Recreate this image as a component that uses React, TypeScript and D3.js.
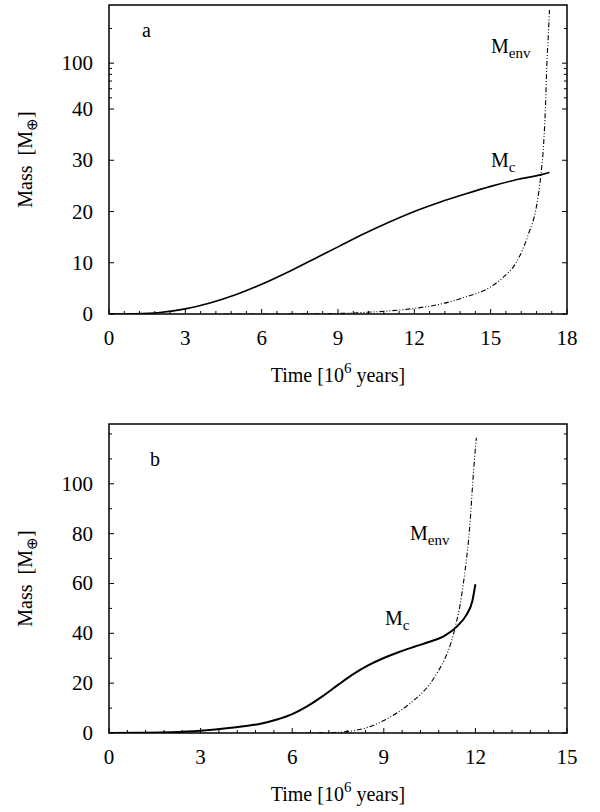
import React from "react";
import * as d3 from "d3";

// ---------- Data ----------
// Panel a
const timeA_core = [0, 1, 2, 3, 4, 5, 6, 7, 8, 9, 10, 11, 12, 13, 14, 15, 16, 17, 17.31];
const massA_core = [0, 0.05, 0.3, 1.0, 2.2, 3.8, 5.8, 8.1, 10.6, 13.1, 15.6, 17.9, 20.0, 21.8, 23.4, 24.9, 26.2, 27.2, 27.6];
const timeA_env = [4.5, 8, 9, 10, 11, 12, 13, 14, 15, 15.5, 16, 16.5, 16.8, 16.97, 17.08, 17.15, 17.21, 17.27, 17.31];
const massA_env = [0, 0.03, 0.1, 0.3, 0.6, 1.1, 1.9, 3.3, 5.3, 7.2, 10, 15.8, 21, 27, 33, 40, 100, 183, 290];
// Panel b
const timeB_core = [0, 1, 2, 3, 4, 5, 5.5, 6, 6.5, 7, 7.5, 8, 8.5, 9, 9.5, 10, 10.5, 11, 11.4, 11.7, 11.9, 12];
const massB_core = [0, 0.1, 0.3, 0.9, 2.1, 3.8, 5.4, 7.6, 10.8, 14.8, 19.3, 23.6, 27.2, 30.1, 32.5, 34.6, 36.6, 39.1, 42.8, 47.3, 53, 59.7];
const timeB_env = [6, 7, 7.5, 8, 8.5, 9, 9.5, 10, 10.5, 10.75, 11, 11.2, 11.36, 11.5, 11.6, 11.7, 11.78, 11.84, 11.91, 12.03];
const massB_env = [0, 0.05, 0.25, 0.9, 2.4, 5.0, 8.6, 13.3, 19.5, 24.2, 29.8, 36.2, 43.5, 51.5, 59.5, 69, 78, 87, 100, 118.5];

// Ticks
const xMajorA = [0, 3, 6, 9, 12, 15, 18];
const xMajorB = [0, 3, 6, 9, 12, 15];
const yMajorA = [0, 10, 20, 30, 40, 100];
const yMinorA = [50, 60, 70, 80, 90, 200];
const yMajorB = [0, 20, 40, 60, 80, 100];
const yMinorB = [10, 30, 50, 70, 90, 110, 120];

const FONT = "'Liberation Serif', 'Times New Roman', Times, serif";
const LEFT = 109;
const RIGHT = 567;

type PanelProps = {
  top: number;
  bottom: number;
  xMax: number;
  xMajor: number[];
  yScale: (v: number) => number;
  yMajor: number[];
  yMinor: number[];
  core: [number[], number[]];
  env: [number[], number[]];
  letter: string;
  letterPos: [number, number];
  mcPos: [number, number];
  menvPos: [number, number];
  coreWidth: number;
};

function Panel(p: PanelProps) {
  const x = d3.scaleLinear().domain([0, p.xMax]).range([LEFT, RIGHT]);
  const xMinor = d3.range(0, p.xMax + 1e-6, 0.6).filter(
    (v) => Math.abs(v / 3 - Math.round(v / 3)) > 1e-6
  );
  const line = d3
    .line<[number, number]>()
    .x((d) => x(d[0]))
    .y((d) => p.yScale(d[1]))
    .curve(d3.curveMonotoneX);
  const coreData = p.core[0].map((t, i) => [t, p.core[1][i]] as [number, number]);
  const envData = p.env[0].map((t, i) => [t, p.env[1][i]] as [number, number]);
  const { top, bottom } = p;
  const cx = (LEFT + RIGHT) / 2;
  const cy = (top + bottom) / 2;
  return (
    <g>
      <defs>
        <clipPath id={"clip" + p.letter}>
          <rect x={LEFT} y={top} width={RIGHT - LEFT} height={bottom - top} />
        </clipPath>
      </defs>
      {p.xMajor.map((v) => (
        <g key={"xM" + v}>
          <line x1={x(v)} x2={x(v)} y1={bottom} y2={bottom - 5} stroke="#000" strokeWidth={1} />
          <text x={x(v)} y={bottom + 31} textAnchor="middle" fontSize={21} fontFamily={FONT}>
            {v}
          </text>
        </g>
      ))}
      {xMinor.map((v) => (
        <line key={"xm" + v} x1={x(v)} x2={x(v)} y1={bottom} y2={bottom - 3} stroke="#000" strokeWidth={1} />
      ))}
      {p.yMajor.map((v) => (
        <g key={"yM" + v}>
          <line x1={LEFT} x2={LEFT + 5} y1={p.yScale(v)} y2={p.yScale(v)} stroke="#000" strokeWidth={1} />
          <line x1={RIGHT} x2={RIGHT - 5} y1={p.yScale(v)} y2={p.yScale(v)} stroke="#000" strokeWidth={1} />
          <text x={LEFT - 16} y={p.yScale(v) + 7} textAnchor="end" fontSize={21} fontFamily={FONT}>
            {v}
          </text>
        </g>
      ))}
      {p.yMinor.map((v) => (
        <g key={"ym" + v}>
          <line x1={LEFT} x2={LEFT + 3} y1={p.yScale(v)} y2={p.yScale(v)} stroke="#000" strokeWidth={1} />
          <line x1={RIGHT} x2={RIGHT - 3} y1={p.yScale(v)} y2={p.yScale(v)} stroke="#000" strokeWidth={1} />
        </g>
      ))}
      <g clipPath={`url(#clip${p.letter})`}>
        <path d={line(envData) || ""} fill="none" stroke="#000" strokeWidth={1.1} strokeDasharray="5,2,1,2,1,2" />
        <path d={line(coreData) || ""} fill="none" stroke="#000" strokeWidth={p.coreWidth} />
      </g>
      <rect x={LEFT} y={top} width={RIGHT - LEFT} height={bottom - top} fill="none" stroke="#000" strokeWidth={1.5} />
      <text x={p.letterPos[0]} y={p.letterPos[1]} fontSize={20} fontFamily={FONT}>
        {p.letter}
      </text>
      <text x={p.mcPos[0]} y={p.mcPos[1]} fontSize={20} fontFamily={FONT}>
        M<tspan fontSize={15} dy={5}>c</tspan>
      </text>
      <text x={p.menvPos[0]} y={p.menvPos[1]} fontSize={20} fontFamily={FONT}>
        M<tspan fontSize={15} dy={5}>env</tspan>
      </text>
      <text x={cx} y={bottom + 68} textAnchor="middle" fontSize={20} fontFamily={FONT}>
        Time [10<tspan fontSize={15} dy={-9}>6</tspan>
        <tspan dy={9}> years]</tspan>
      </text>
      <text
        transform={`translate(32,${cy}) rotate(-90)`}
        textAnchor="middle"
        fontSize={20}
        fontFamily={FONT}
        style={{ whiteSpace: "pre" }}
      >
        Mass  [M<tspan fontSize={15} dy={5}>⊕</tspan>
        <tspan dy={-5}>]</tspan>
      </text>
    </g>
  );
}

export default function App() {
  const linA = d3.scaleLinear().domain([0, 40]).range([314, 109]);
  const logA = d3.scaleLog().domain([40, 320]).range([109, 5]);
  const yA = (v: number) => (v <= 40 ? linA(v) : logA(v));
  const linB = d3.scaleLinear().domain([0, 124]).range([733, 424]);
  const yB = (v: number) => linB(v);
  return (
    <svg
      width={600}
      height={812}
      viewBox="0 0 600 812"
      style={{ position: "absolute", left: 0, top: 0, background: "#fff" }}
    >
      <rect width={600} height={812} fill="#fff" />
      <Panel
        top={5}
        bottom={314}
        xMax={18}
        xMajor={xMajorA}
        yScale={yA}
        yMajor={yMajorA}
        yMinor={yMinorA}
        core={[timeA_core, massA_core]}
        env={[timeA_env, massA_env]}
        letter="a"
        letterPos={[142, 37]}
        mcPos={[491, 167]}
        menvPos={[491, 53]}
        coreWidth={1.6}
      />
      <Panel
        top={424}
        bottom={733}
        xMax={15}
        xMajor={xMajorB}
        yScale={yB}
        yMajor={yMajorB}
        yMinor={yMinorB}
        core={[timeB_core, massB_core]}
        env={[timeB_env, massB_env]}
        letter="b"
        letterPos={[150, 466]}
        mcPos={[385, 625]}
        menvPos={[410, 540]}
        coreWidth={2}
      />
    </svg>
  );
}
